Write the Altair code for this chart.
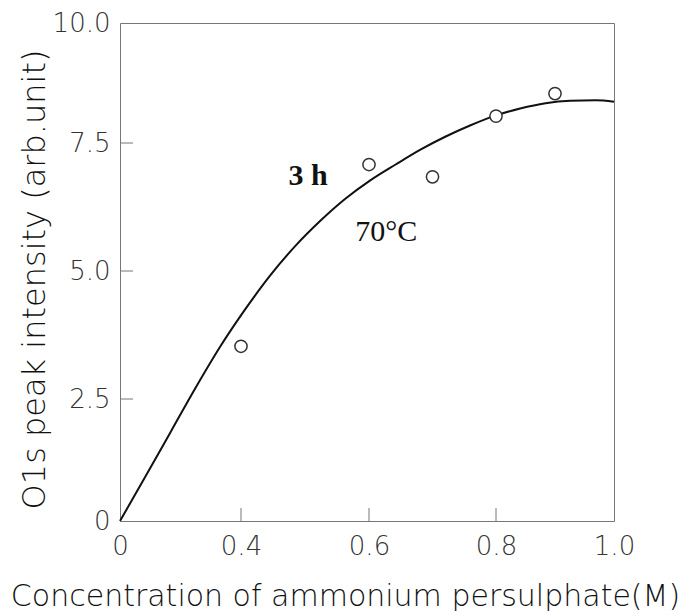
import altair as alt
import pandas as pd

# measured points (open circles)
conc_pts = [0.4, 0.6, 0.7, 0.8, 0.9]
o1s_pts = [3.53, 7.08, 6.84, 8.06, 8.53]

# fitted curve
curve_x = [0, 0.084, 0.167, 0.249, 0.332, 0.407, 0.446, 0.485, 0.524, 0.563,
           0.602, 0.642, 0.681, 0.720, 0.760, 0.799, 0.841, 0.884, 0.926,
           0.969, 1.0]
curve_y = [0, 0.91, 1.82, 2.71, 3.53, 4.26, 4.92, 5.49, 5.98, 6.41,
           6.77, 7.08, 7.37, 7.63, 7.87, 8.07, 8.22, 8.33, 8.38,
           8.39, 8.36]

x_ticks = [0, 0.4, 0.6, 0.8, 1.0]
y_ticks = [0, 2.5, 5.0, 7.5, 10.0]
x_inner_ticks = [0.4, 0.6, 0.8]
y_inner_ticks = [2.5, 5.0, 7.5]

ann_text = ["3 h", "70°C"]
ann_x = [0.505, 0.627]
ann_y = [6.67, 5.58]
ann_bold = [True, False]

W, H = 494, 498

pts = pd.DataFrame({"c": conc_pts, "v": o1s_pts})
curve = pd.DataFrame({"c": curve_x, "v": curve_y})
ann = pd.DataFrame({"t": ann_text, "c": ann_x, "v": ann_y, "b": ann_bold})
xt = pd.DataFrame({"c": x_inner_ticks})
yt = pd.DataFrame({"v": y_inner_ticks})

xs = alt.Scale(domain=x_ticks, range=[0, 121, 249, 376, W])
ys = alt.Scale(domain=y_ticks, range=[H, 376, 248, 120, 0])

lbl = "datum.value == 0 ? '0' : format(datum.value, '.1f')"
FONT = "DejaVu Sans"

x_axis = alt.Axis(values=x_ticks, labelExpr=lbl, ticks=False, domain=False, grid=False,
                  labelFontSize=26, labelFont=FONT, labelColor="#333", labelPadding=12,
                  labelFontWeight=300,
                  labelFlush=False, labelOverlap=False,
                  title="Concentration of ammonium persulphate(M)",
                  titleFont=FONT, titleFontSize=30, titleFontWeight=300, titleColor="#111",
                  titleX=225, titleY=84, titleAlign="center", titleBaseline="alphabetic")
y_axis = alt.Axis(values=y_ticks, labelExpr=lbl, ticks=False, domain=False, grid=False,
                  labelFontSize=26, labelFont=FONT, labelColor="#333", labelPadding=10,
                  labelFontWeight=300,
                  labelFlush=False, labelOverlap=False,
                  title="O1s peak intensity (arb.unit)",
                  titleFont=FONT, titleFontSize=32, titleFontWeight=300, titleColor="#111",
                  titleX=-76, titleY=256, titleAlign="center", titleBaseline="alphabetic")

X = alt.X("c:Q", scale=xs, axis=x_axis)
Y = alt.Y("v:Q", scale=ys, axis=y_axis)

line = alt.Chart(curve).mark_line(color="#111", strokeWidth=2, interpolate="monotone").encode(
    x=X, y=Y)

circles = alt.Chart(pts).mark_point(shape="circle", size=150, filled=False, fill="white",
                                    fillOpacity=1, stroke="#333", strokeWidth=1.5, opacity=1).encode(
    x=X, y=Y)

xtick = alt.Chart(xt).mark_rule(color="#777", strokeWidth=1).encode(
    x=X, y=alt.value(H), y2=alt.value(H - 13))
ytick = alt.Chart(yt).mark_rule(color="#777", strokeWidth=1).encode(
    y=Y, x=alt.value(0), x2=alt.value(13))

t_bold = alt.Chart(ann).transform_filter("datum.b").mark_text(
    font="Liberation Serif", fontSize=30, fontWeight="bold", align="center",
    baseline="alphabetic", color="#111").encode(x=X, y=Y, text="t:N")
t_norm = alt.Chart(ann).transform_filter("!datum.b").mark_text(
    font="Liberation Serif", fontSize=30, fontWeight="normal", align="center",
    baseline="alphabetic", color="#111").encode(x=X, y=Y, text="t:N")

chart = alt.layer(line, xtick, ytick, circles, t_bold, t_norm).properties(
    width=W, height=H,
    autosize=alt.AutoSizeParams(type="none"),
    padding={"left": 120, "top": 23, "right": 689 - 120 - W, "bottom": 611 - 23 - H},
    background="white",
).configure_view(stroke="#777", strokeWidth=1)

chart.save("out.html", embed_options={"renderer": "svg", "actions": False})
